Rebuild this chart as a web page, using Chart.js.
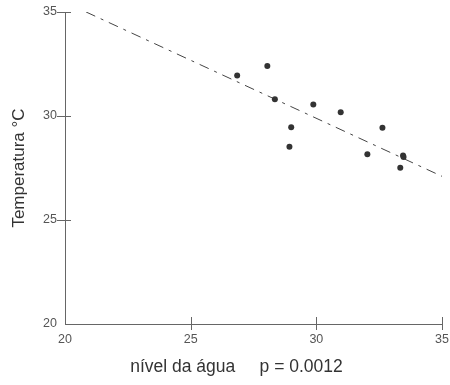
<!DOCTYPE html>
<html>
<head>
<meta charset="utf-8">
<script src="https://cdn.jsdelivr.net/npm/chart.js@4/dist/chart.umd.min.js"></script>
<style>
  body { margin: 0; background: #fff; }
  canvas { display: block; }
</style>
</head>
<body>
<canvas id="grafico" width="450" height="385"></canvas>
<script>
// nível da água x temperatura
const nivelAgua = [26.85, 28.05, 28.35, 29.88, 30.97, 29.0, 28.93, 32.63, 32.03, 33.45, 33.47, 33.34];
const temperatura = [31.95, 32.4, 30.8, 30.55, 30.18, 29.46, 28.52, 29.44, 28.16, 28.1, 28.03, 27.51];

// reta de regressão
const retaX = [20.84, 35];
const retaY = [35, 27.1];

const ticksX = [20, 25, 30, 35];
const ticksY = [20, 25, 30, 35];

const pontos = nivelAgua.map((x, i) => ({ x, y: temperatura[i] }));
const reta = retaX.map((x, i) => ({ x, y: retaY[i] }));

// marcas dos ticks cruzando o eixo (exceto no canto)
const marcasEixo = {
  id: 'marcasEixo',
  afterDraw(chart) {
    const { ctx, scales: { x, y }, chartArea } = chart;
    ctx.save();
    ctx.strokeStyle = '#666';
    ctx.lineWidth = 1;
    ctx.beginPath();
    ticksY.slice(1).forEach(v => {
      const py = Math.round(y.getPixelForValue(v)) + 0.5;
      ctx.moveTo(chartArea.left - 8, py);
      ctx.lineTo(chartArea.left + 6, py);
    });
    ticksX.slice(1).forEach(v => {
      const px = Math.round(x.getPixelForValue(v)) + 0.5;
      ctx.moveTo(px, chartArea.bottom - 7);
      ctx.lineTo(px, chartArea.bottom + 6);
    });
    ctx.stroke();
    ctx.restore();
  }
};

const fonte = '"Liberation Sans", Arial, sans-serif';

new Chart(document.getElementById('grafico'), {
  type: 'scatter',
  data: {
    datasets: [
      {
        data: pontos,
        backgroundColor: '#333',
        borderWidth: 0,
        pointRadius: 3,
        pointHoverRadius: 3
      },
      {
        type: 'line',
        data: reta,
        borderColor: '#444',
        borderWidth: 1,
        borderDash: [10, 6, 3, 6],
        pointRadius: 0,
        fill: false
      }
    ]
  },
  options: {
    responsive: false,
    animation: false,
    layout: { padding: { top: 12, right: 8, bottom: 0, left: 0 } },
    plugins: {
      legend: { display: false },
      tooltip: { enabled: false }
    },
    scales: {
      x: {
        type: 'linear',
        min: 20,
        max: 35,
        afterFit: s => {
          s.height = 61;
          s.paddingLeft = 0;
          s.paddingRight = 0;
        },
        afterBuildTicks: s => { s.ticks = ticksX.map(v => ({ value: v })); },
        grid: { display: false, drawTicks: false },
        border: { display: true, color: '#666', width: 1 },
        ticks: { padding: 8, color: '#555', font: { family: fonte, size: 12.5 } },
        title: {
          display: true,
          text: 'nível da água     p = 0.0012       ',
          color: '#333',
          font: { family: fonte, size: 17.5 },
          padding: { top: 0, bottom: 7 }
        }
      },
      y: {
        type: 'linear',
        min: 20,
        max: 35,
        afterFit: s => {
          s.width = 65;
          s.paddingTop = 0;
          s.paddingBottom = 0;
        },
        afterBuildTicks: s => { s.ticks = ticksY.map(v => ({ value: v })); },
        grid: { display: false, drawTicks: false },
        border: { display: true, color: '#666', width: 1 },
        ticks: { padding: 8, color: '#555', font: { family: fonte, size: 12.5 } },
        title: {
          display: true,
          text: 'Temperatura °C',
          color: '#333',
          font: { family: fonte, size: 17 },
          padding: { top: 9, bottom: 0 }
        }
      }
    }
  },
  plugins: [marcasEixo]
});
</script>
</body>
</html>
